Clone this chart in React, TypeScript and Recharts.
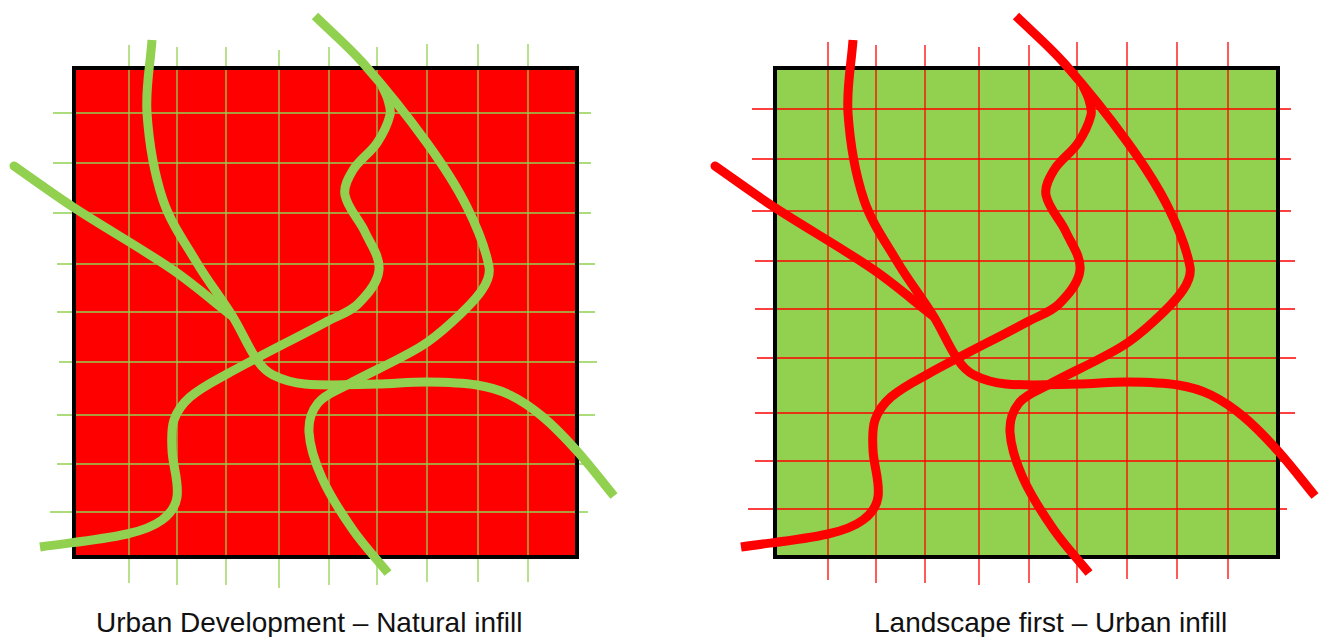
import { ComposedChart, Line, ReferenceArea, XAxis, YAxis } from "recharts";

const RED = "#ff0000";
const GREEN = "#92d050";

type Pt = { x: number; y: number };

// Panel space: page x for the left panel, page x - 701 for the right one
const frameX = [74, 577];
const frameY = [68, 557];

const leftGridX = [129, 177, 226, 279, 329, 377, 427, 478, 528];
const leftGridXTop = [45, 47, 47, 50, 47, 47, 44, 44, 44];
const leftGridXBottom = [583, 585, 585, 588, 585, 585, 582, 582, 582];
const leftGridY = [113, 163, 213, 264, 312, 362, 415, 464, 512];
const leftGridYStart = [53, 53, 53, 57, 57, 59, 57, 57, 50];
const leftGridYEnd = [591, 591, 591, 595, 595, 597, 595, 590, 588];

const rightGridX = [127, 175, 224, 278, 328, 376, 426, 476, 527];
const rightGridXTop = [42, 45, 45, 47, 45, 42, 42, 42, 42];
const rightGridXBottom = [580, 583, 583, 585, 583, 583, 579, 579, 579];
const rightGridY = [109, 159, 211, 261, 309, 358, 413, 461, 509];
const rightGridYStart = [51, 51, 51, 54, 54, 56, 54, 54, 47];
const rightGridYEnd = [590, 590, 590, 594, 594, 595, 594, 582, 586];

const curveA: Pt[] = [
  { x: 152, y: 40 }, { x: 147, y: 113 }, { x: 163, y: 200 }, { x: 197, y: 263 },
  { x: 233, y: 317 }, { x: 257, y: 360 }, { x: 273, y: 375 }, { x: 305, y: 384 },
  { x: 377, y: 384 }, { x: 427, y: 382 }, { x: 477, y: 385 }, { x: 510, y: 395 },
  { x: 543, y: 417 }, { x: 577, y: 451 }, { x: 614, y: 496 },
];
const curveB: Pt[] = [
  { x: 14, y: 166 }, { x: 73, y: 207 }, { x: 173, y: 270 }, { x: 232, y: 316 },
];
const curveC: Pt[] = [
  { x: 40, y: 547 }, { x: 127, y: 534 }, { x: 162, y: 520 }, { x: 177, y: 497 },
  { x: 172, y: 450 }, { x: 174, y: 420 }, { x: 190, y: 397 }, { x: 227, y: 374 },
  { x: 328, y: 321 }, { x: 358, y: 304 }, { x: 379, y: 270 }, { x: 365, y: 232 },
  { x: 345, y: 195 }, { x: 353, y: 170 }, { x: 377, y: 143 }, { x: 390, y: 115 },
  { x: 388, y: 100 }, { x: 382, y: 86 },
];
const curveD: Pt[] = [
  { x: 315, y: 16 }, { x: 363, y: 63 }, { x: 427, y: 143 }, { x: 467, y: 207 },
  { x: 489, y: 267 }, { x: 482, y: 290 }, { x: 452, y: 322 }, { x: 420, y: 347 },
  { x: 347, y: 385 }, { x: 318, y: 403 }, { x: 309, y: 432 }, { x: 322, y: 478 },
  { x: 353, y: 530 }, { x: 388, y: 573 },
];

const frameLine: Pt[] = [
  { x: frameX[0], y: frameY[0] }, { x: frameX[1], y: frameY[0] },
  { x: frameX[1], y: frameY[1] }, { x: frameX[0], y: frameY[1] }, { x: frameX[0], y: frameY[0] },
];

// Smooth line through every point, handles a third of the segment long
const throughPoints = (context: any) => {
  let pts: [number, number][] = [];
  const tangent = (i: number): [number, number] => {
    const a = pts[Math.max(i - 1, 0)];
    const b = pts[Math.min(i + 1, pts.length - 1)];
    const len = Math.hypot(b[0] - a[0], b[1] - a[1]) || 1;
    return [(b[0] - a[0]) / len, (b[1] - a[1]) / len];
  };
  return {
    areaStart() {},
    areaEnd() {},
    lineStart() {
      pts = [];
    },
    point(x: number, y: number) {
      pts.push([x, y]);
    },
    lineEnd() {
      pts.forEach((p, i) => {
        if (i === 0) {
          context.moveTo(p[0], p[1]);
          return;
        }
        const q = pts[i - 1];
        const h = Math.hypot(p[0] - q[0], p[1] - q[1]) / 3;
        const t0 = tangent(i - 1);
        const t1 = tangent(i);
        context.bezierCurveTo(q[0] + t0[0] * h, q[1] + t0[1] * h, p[0] - t1[0] * h, p[1] - t1[1] * h, p[0], p[1]);
      });
    },
  };
};

interface PanelProps {
  left: number;
  xDomain: [number, number];
  fill: string;
  ink: string;
  gridX: number[];
  gridXTop: number[];
  gridXBottom: number[];
  gridY: number[];
  gridYStart: number[];
  gridYEnd: number[];
}

const Panel = ({ left, xDomain, fill, ink, gridX, gridXTop, gridXBottom, gridY, gridYStart, gridYEnd }: PanelProps) => (
  <div style={{ position: "absolute", left, top: 0 }}>
    <ComposedChart width={660} height={637} margin={{ top: 0, right: 0, bottom: 0, left: 0 }}>
      <XAxis type="number" dataKey="x" domain={xDomain} hide />
      <YAxis type="number" dataKey="y" domain={[0, 637]} reversed hide />
      <ReferenceArea x1={frameX[0]} x2={frameX[1]} y1={frameY[0]} y2={frameY[1]} fill={fill} fillOpacity={1} stroke="none" />
      {gridX.map((x, i) => (
        <Line
          key={`v${i}`}
          data={[{ x, y: gridXTop[i] }, { x, y: gridXBottom[i] }]}
          dataKey="y"
          type="linear"
          stroke={ink}
          strokeWidth={1.3}
          dot={false}
          activeDot={false}
          isAnimationActive={false}
        />
      ))}
      {gridY.map((y, i) => (
        <Line
          key={`h${i}`}
          data={[{ x: gridYStart[i], y }, { x: gridYEnd[i], y }]}
          dataKey="y"
          type="linear"
          stroke={ink}
          strokeWidth={1.3}
          dot={false}
          activeDot={false}
          isAnimationActive={false}
        />
      ))}
      <Line data={frameLine} dataKey="y" type="linear" stroke="#000" strokeWidth={4} strokeLinecap="square" dot={false} activeDot={false} isAnimationActive={false} />
      <Line data={curveB} dataKey="y" type={throughPoints as any} stroke={ink} strokeWidth={9} strokeLinecap="round" dot={false} activeDot={false} isAnimationActive={false} />
      {[curveA, curveC, curveD].map((c, i) => (
        <Line key={`c${i}`} data={c} dataKey="y" type={throughPoints as any} stroke={ink} strokeWidth={9} dot={false} activeDot={false} isAnimationActive={false} />
      ))}
    </ComposedChart>
  </div>
);

const captionStyle = {
  position: "absolute" as const,
  top: 606,
  fontFamily: "'Liberation Sans', Arial, sans-serif",
  fontSize: 28,
  lineHeight: "34px",
  color: "#111",
  whiteSpace: "nowrap" as const,
};

export default function App() {
  return (
    <div style={{ position: "fixed", left: 0, top: 0, width: 1320, height: 637, background: "#fff", overflow: "hidden" }}>
      <Panel
        left={0}
        xDomain={[0, 660]}
        fill={RED}
        ink={GREEN}
        gridX={leftGridX}
        gridXTop={leftGridXTop}
        gridXBottom={leftGridXBottom}
        gridY={leftGridY}
        gridYStart={leftGridYStart}
        gridYEnd={leftGridYEnd}
      />
      <Panel
        left={660}
        xDomain={[-41, 619]}
        fill={GREEN}
        ink={RED}
        gridX={rightGridX}
        gridXTop={rightGridXTop}
        gridXBottom={rightGridXBottom}
        gridY={rightGridY}
        gridYStart={rightGridYStart}
        gridYEnd={rightGridYEnd}
      />
      <div style={{ ...captionStyle, left: 96 }}>Urban Development – Natural infill</div>
      <div style={{ ...captionStyle, left: 874 }}>Landscape first – Urban infill</div>
    </div>
  );
}
